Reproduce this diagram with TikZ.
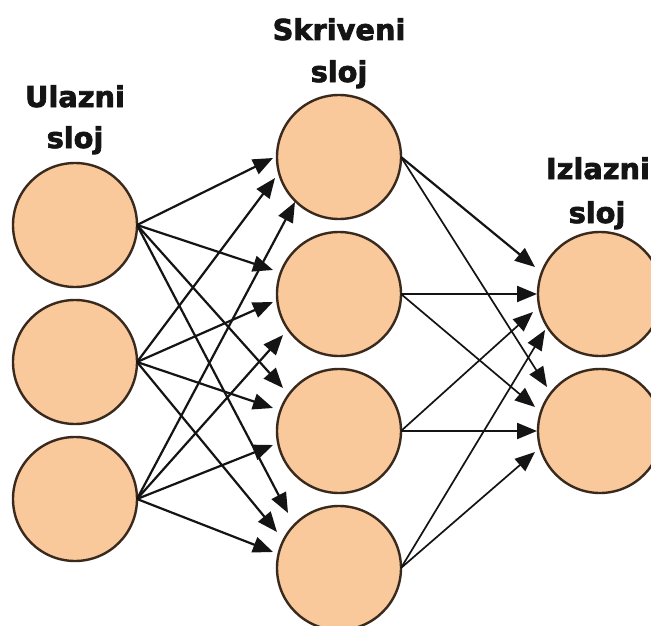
\documentclass[tikz,border=0pt]{standalone}
\usepackage{fontspec}
\setmainfont{DejaVu Sans}
\newfontfamily\heavy[FakeBold=2.5]{DejaVu Sans Bold}
\usetikzlibrary{arrows.meta,calc}
\definecolor{peach}{RGB}{249,201,156}
\definecolor{rim}{RGB}{58,42,30}
\definecolor{ink}{RGB}{20,20,20}
\begin{document}
\begin{tikzpicture}[x=1pt,y=-1pt,
  neuron/.style={circle,draw=rim,fill=peach,line width=2.4pt,minimum size=124pt,inner sep=0pt,outer sep=0pt},
  lbl/.style={anchor=base,font=\heavy\fontsize{28.8}{30}\selectfont,text=ink,inner sep=0pt},
  arr/.style={draw=ink,line width=2.2pt,-{Triangle[length=20pt,width=16pt]}},
  arrt/.style={draw=ink,line width=1.7pt,-{Triangle[length=20pt,width=16pt]}}]
\useasboundingbox (0,0) rectangle (651,626);
\fill[white] (0,0) rectangle (651,626);
% nodes
\node[neuron] (i1) at (75,225) {};
\node[neuron] (i2) at (75,362) {};
\node[neuron] (i3) at (75,499) {};
\node[neuron] (h1) at (339,157) {};
\node[neuron] (h2) at (339,294) {};
\node[neuron] (h3) at (339,431) {};
\node[neuron] (h4) at (339,568) {};
\node[neuron] (o1) at (600,294) {};
\node[neuron] (o2) at (600,431) {};
% labels
\node[lbl] (l1a) at (75,107) {Ulazni};
\node[lbl] (l1b) at (75,148) {sloj};
\node[lbl] (l2a) at (339,40) {Skriveni};
\node[lbl] (l2b) at (339,82) {sloj};
\node[lbl] (l3a) at (598,179) {Izlazni};
\node[lbl] (l3b) at (597,223) {sloj};
% input -> hidden
\draw[arr] (i1.east) -- ($(h1)+(-66,1)$);
\draw[arr] (i2.east) -- ($(h1)+(-64,21)$);
\draw[arr] (i3.east) -- ($(h1)+(-44,45)$);
\draw[arr] (i1.east) -- ($(h2)+(-66,-24)$);
\draw[arr] (i2.east) -- ($(h2)+(-66,8)$);
\draw[arr] (i3.east) -- ($(h2)+(-56,41)$);
\draw[arr] (i1.east) -- ($(h3)+(-56,-43)$);
\draw[arr] (i2.east) -- ($(h3)+(-66,-23)$);
\draw[arr] (i3.east) -- ($(h3)+(-66,14)$);
\draw[arr] (i1.east) -- ($(h4)+(-51,-55)$);
\draw[arr] (i2.east) -- ($(h4)+(-62,-36)$);
\draw[arr] (i3.east) -- ($(h4)+(-66,-16)$);
% hidden -> output
\draw[arr]  (h1.east) -- ($(o1)+(-65,-27)$);
\draw[arr]  (h2.east) -- ($(o1)+(-63,0)$);
\draw[arrt] (h3.east) -- ($(o1)+(-67,18)$);
\draw[arrt] (h4.east) -- ($(o1)+(-55,36)$);
\draw[arrt] (h1.east) -- ($(o2)+(-53,-44)$);
\draw[arrt] (h2.east) -- ($(o2)+(-65,-24)$);
\draw[arr]  (h3.east) -- ($(o2)+(-63,0)$);
\draw[arrt] (h4.east) -- ($(o2)+(-65,21)$);
\end{tikzpicture}
\end{document}
